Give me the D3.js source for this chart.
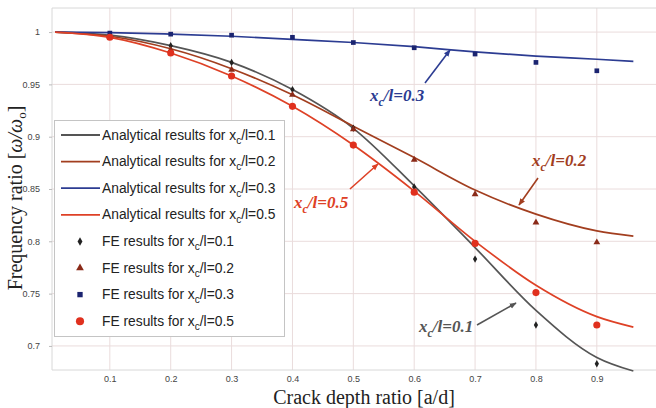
<!DOCTYPE html>
<meta charset="utf-8">
<style>
  body { margin: 0; background: #fff; }
  .tick text { font: 9px "Liberation Sans", Arial, sans-serif; fill: #444; }
  .legend text { font: 13.8px "Liberation Sans", Arial, sans-serif; fill: #222; }
  .note { font: italic bold 17px "Liberation Serif", "Times New Roman", serif; }
  .title { font: 20px "Liberation Serif", "Times New Roman", serif; fill: #222; }
</style>
<body>
<script src="https://d3js.org/d3.v7.min.js"></script>
<script>

var width = 656,
    height = 408;

// analytical curves, sampled along the crack depth ratio
var curveX = [0.01, 0.1, 0.2, 0.3, 0.4, 0.5, 0.6, 0.7, 0.8, 0.9, 0.96];
var anaXc01 = [1, 0.997, 0.987, 0.971, 0.945, 0.908, 0.853, 0.794, 0.734, 0.689, 0.676];
var anaXc02 = [1, 0.996, 0.984, 0.965, 0.940, 0.910, 0.880, 0.849, 0.826, 0.810, 0.805];
var anaXc03 = [1, 0.9995, 0.998, 0.996, 0.993, 0.990, 0.986, 0.981, 0.977, 0.974, 0.972];
var anaXc05 = [1, 0.995, 0.980, 0.958, 0.929, 0.892, 0.848, 0.800, 0.758, 0.728, 0.718];

// FE results
var feX = [0.1, 0.2, 0.3, 0.4, 0.5, 0.6, 0.7, 0.8, 0.9];
var feXc01 = [0.997, 0.987, 0.971, 0.945, 0.908, 0.852, 0.783, 0.720, 0.683];
var feXc02 = [0.996, 0.983, 0.964, 0.940, 0.907, 0.878, 0.845, 0.818, 0.799];
var feXc03 = [0.999, 0.998, 0.997, 0.995, 0.990, 0.985, 0.979, 0.971, 0.963];
var feXc05 = [0.995, 0.980, 0.958, 0.929, 0.892, 0.847, 0.798, 0.751, 0.720];

var xTicks = [0.1, 0.2, 0.3, 0.4, 0.5, 0.6, 0.7, 0.8, 0.9];
var yTicks = [0.7, 0.75, 0.8, 0.85, 0.9, 0.95, 1];

var gray = "#555555", brown = "#a23e1f", blue = "#2c3c92", red = "#de4126";

var svg = d3.select("body").append("svg")
  .attr("width", width)
  .attr("height", height);

var x = d3.scaleLinear().domain([0.005, 1.0]).range([52, 657.7]);
var y = d3.scaleLinear().domain([0.677, 1.023]).range([370, 8]);

// grid
svg.append("g").selectAll("line")
  .data(xTicks)
  .enter().append("line")
    .attr("x1", x).attr("x2", x)
    .attr("y1", y.range()[1]).attr("y2", y.range()[0])
    .attr("stroke", "#eadcdc").attr("stroke-width", 1);

svg.append("g").selectAll("line")
  .data(yTicks)
  .enter().append("line")
    .attr("x1", x.range()[0]).attr("x2", width)
    .attr("y1", y).attr("y2", y)
    .attr("stroke", "#eadcdc").attr("stroke-width", 1);

// frame
svg.append("path")
  .attr("d", "M" + width + "," + y.range()[1] + "H" + x.range()[0] + "V" + y.range()[0] + "H" + width)
  .attr("fill", "none")
  .attr("stroke", "#d8d8d8");

// axes
var xAxis = svg.append("g")
  .attr("transform", "translate(0," + y.range()[0] + ")")
  .call(d3.axisBottom(x).tickValues(xTicks).tickSize(0).tickPadding(6).tickFormat(d3.format("~g")));
xAxis.select(".domain").remove();

var yAxis = svg.append("g")
  .attr("transform", "translate(" + x.range()[0] + ",0)")
  .call(d3.axisLeft(y).tickValues(yTicks).tickSize(3).tickPadding(9).tickFormat(d3.format("~g")));
yAxis.select(".domain").remove();
yAxis.selectAll(".tick line").attr("stroke", "#bbb");

// analytical lines
var line = d3.line()
  .x(function(d) { return x(d[0]); })
  .y(function(d) { return y(d[1]); })
  .curve(d3.curveMonotoneX);

var curves = [
  { vals: anaXc01, color: gray },
  { vals: anaXc02, color: brown },
  { vals: anaXc03, color: blue },
  { vals: anaXc05, color: red }
];

svg.append("g").selectAll("path")
  .data(curves)
  .enter().append("path")
    .attr("d", function(c) { return line(curveX.map(function(v, i) { return [v, c.vals[i]]; })); })
    .attr("fill", "none")
    .attr("stroke", function(c) { return c.color; })
    .attr("stroke-width", 1.7);

// FE markers
var feSets = [
  { vals: feXc01, color: "#222", sym: d3.symbolDiamond, size: 16 },
  { vals: feXc02, color: "#8a2a18", sym: d3.symbolTriangle, size: 20 },
  { vals: feXc03, color: "#1b2470", sym: d3.symbolSquare, size: 22 },
  { vals: feXc05, color: "#e0301e", sym: d3.symbolCircle, size: 40 }
];

feSets.forEach(function(s) {
  svg.append("g").selectAll("path")
    .data(feX)
    .enter().append("path")
      .attr("transform", function(d, i) { return "translate(" + x(d) + "," + y(s.vals[i]) + ")"; })
      .attr("d", d3.symbol().type(s.sym).size(s.size))
      .attr("fill", s.color);
});

// annotations
svg.append("defs").selectAll("marker")
  .data([gray, brown, blue, red])
  .enter().append("marker")
    .attr("id", function(d, i) { return "arr" + i; })
    .attr("viewBox", "0 0 10 10")
    .attr("refX", 9).attr("refY", 5)
    .attr("markerWidth", 7).attr("markerHeight", 7)
    .attr("markerUnits", "userSpaceOnUse")
    .attr("orient", "auto")
  .append("path")
    .attr("d", "M0,1L10,5L0,9Z")
    .attr("fill", function(d) { return d; });

var notes = [
  { label: "0.3", color: blue, m: 2, tx: 370, ty: 101, ax: [425, 83, 450, 50] },
  { label: "0.2", color: brown, m: 1, tx: 532, ty: 166, ax: [538, 178, 519, 205] },
  { label: "0.5", color: red, m: 3, tx: 294, ty: 208, ax: [350, 189, 378, 164] },
  { label: "0.1", color: gray, m: 0, tx: 419, ty: 332, ax: [477, 325, 516, 303] }
];

notes.forEach(function(n) {
  svg.append("line")
    .attr("x1", n.ax[0]).attr("y1", n.ax[1])
    .attr("x2", n.ax[2]).attr("y2", n.ax[3])
    .attr("stroke", n.color).attr("stroke-width", 1.6)
    .attr("marker-end", "url(#arr" + n.m + ")");
  var t = svg.append("text").attr("class", "note")
    .attr("x", n.tx).attr("y", n.ty)
    .attr("fill", n.color);
  t.append("tspan").text("x");
  t.append("tspan").attr("dy", 5).style("font-size", "12px").text("c");
  t.append("tspan").attr("dy", -5).text("/l=" + n.label);
});

// legend
var legendRows = [
  { text: "Analytical results for x", val: "0.1", color: gray, kind: "line" },
  { text: "Analytical results for x", val: "0.2", color: brown, kind: "line" },
  { text: "Analytical results for x", val: "0.3", color: blue, kind: "line" },
  { text: "Analytical results for x", val: "0.5", color: red, kind: "line" },
  { text: "FE results for x", val: "0.1", set: feSets[0], kind: "sym" },
  { text: "FE results for x", val: "0.2", set: feSets[1], kind: "sym" },
  { text: "FE results for x", val: "0.3", set: feSets[2], kind: "sym" },
  { text: "FE results for x", val: "0.5", set: feSets[3], kind: "sym" }
];

var legend = svg.append("g").attr("class", "legend");
legend.append("rect")
  .attr("x", 54.5).attr("y", 120.5)
  .attr("width", 230).attr("height", 216)
  .attr("fill", "#fff")
  .attr("stroke", "#c4c4c4");

legendRows.forEach(function(r, i) {
  var cy = 135 + i * 26.6;
  if (r.kind === "line") {
    legend.append("line")
      .attr("x1", 61).attr("x2", 100)
      .attr("y1", cy).attr("y2", cy)
      .attr("stroke", r.color).attr("stroke-width", 1.8);
  } else {
    legend.append("path")
      .attr("transform", "translate(80," + cy + ")")
      .attr("d", d3.symbol().type(r.set.sym).size(r.set.size * 1.3))
      .attr("fill", r.set.color);
  }
  var t = legend.append("text").attr("x", 102).attr("y", cy + 4.5);
  t.append("tspan").text(r.text);
  t.append("tspan").attr("dy", 4).style("font-size", "10px").text("c");
  t.append("tspan").attr("dy", -4).text("/l=" + r.val);
});

// axis titles
svg.append("text").attr("class", "title")
  .attr("x", 364).attr("y", 404)
  .attr("text-anchor", "middle")
  .text("Crack depth ratio [a/d]");

var yt = svg.append("text").attr("class", "title")
  .attr("transform", "translate(22,198) rotate(-90)")
  .attr("text-anchor", "middle");
yt.append("tspan").text("Frequency ratio [");
yt.append("tspan").style("font-style", "italic").text("ω/ω");
yt.append("tspan").attr("dy", 4).style("font-size", "13px").text("o");
yt.append("tspan").attr("dy", -4).text("]");

</script>
